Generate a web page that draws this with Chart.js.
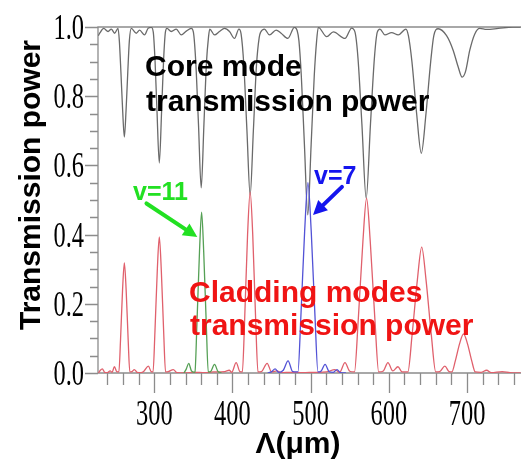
<!DOCTYPE html>
<html>
<head>
<meta charset="utf-8">
<script src="https://cdn.jsdelivr.net/npm/chart.js@4/dist/chart.umd.min.js"></script>
<style>
  html, body { margin: 0; padding: 0; background: #ffffff; }
  canvas { display: block; }
</style>
</head>
<body>
<canvas id="c" width="523" height="465"></canvas>
<script>
// Grating period axis (µm) and tick labels
const xTicks = [300, 400, 500, 600, 700];
const yTicks = ['0.0', '0.2', '0.4', '0.6', '0.8', '1.0'];

// Core mode transmission power
const coreX = [228.5, 230.2, 235.3, 240.9, 245.0, 249.3, 253.6,
  255.3, 257.3, 259.5, 261.7, 263.9, 266.1, 268.1,
  270.6, 277.0, 281.2, 287.6, 292.0, 296.2,
  298.7, 301.0, 303.4, 306.4, 309.4, 311.8, 314.2,
  316.2, 321.7, 328.1, 334.5, 340.9, 347.3,
  350.0, 353.0, 356.5, 360.0, 363.5, 366.8, 369.3,
  370.9, 377.0, 383.4, 389.8, 396.2, 402.6, 408.2,
  411.0, 414.5, 418.5, 422.6, 426.7, 430.7, 434.2,
  436.0, 440.9, 447.3, 455.8, 462.2, 470.8, 479.2, 482.7,
  485.0, 488.0, 492.0, 496.3, 500.6, 504.6, 507.6,
  509.8, 520.5, 529.0, 543.9, 552.4,
  556.7, 560.5, 565.5, 571.0, 576.5, 581.5, 585.2,
  588.6, 595.0, 603.5, 612.0, 621.8,
  625.0, 629.5, 635.5, 641.5, 647.5, 653.5, 657.5,
  663.0, 673.8, 682.2, 688.6, 693.7, 698.0, 703.5, 709.9, 716.3, 724.9, 740.0, 758.5, 768.5];
const coreY = [0.975, 0.982, 0.996, 0.987, 0.994, 0.982, 0.996,
  0.960, 0.870, 0.760, 0.682, 0.760, 0.870, 0.960,
  0.996, 0.982, 0.991, 0.977, 0.996, 0.999,
  0.985, 0.900, 0.760, 0.607, 0.760, 0.900, 0.985,
  0.996, 0.987, 0.994, 0.977, 0.988, 0.996,
  0.985, 0.900, 0.720, 0.535, 0.720, 0.900, 0.970,
  0.994, 0.977, 0.987, 0.996, 0.987, 0.967, 0.994,
  0.980, 0.890, 0.700, 0.514, 0.700, 0.890, 0.970,
  0.985, 0.994, 0.977, 0.991, 0.982, 0.967, 0.999, 0.990,
  0.960, 0.860, 0.660, 0.457, 0.660, 0.860, 0.960,
  0.999, 0.972, 0.986, 0.967, 0.997,
  0.985, 0.910, 0.720, 0.505, 0.720, 0.910, 0.985,
  0.994, 0.977, 0.984, 0.977, 0.994,
  0.975, 0.900, 0.750, 0.635, 0.750, 0.900, 0.975,
  0.995, 0.975, 0.933, 0.885, 0.855, 0.871, 0.933, 0.980, 0.996, 0.993, 0.996, 1.000, 1.000];

// Cladding modes transmission power
const cladX = [228.5, 231.0, 233.5, 236.5, 240.0, 243.5, 246.0, 249.0, 252.0,
  254.7, 256.8, 259.4, 261.7, 264.0, 266.6, 268.7,
  271.5, 274.5, 278.0, 283.0, 287.0, 292.4, 296.0,
  298.4, 300.8, 303.8, 306.4, 309.0, 312.0, 314.4,
  318.0, 324.3, 329.0, 340.0, 350.0, 365.0, 375.0, 390.0, 395.8, 399.0, 404.7, 409.5,
  412.6, 415.6, 419.3, 422.6, 425.9, 429.6, 432.6,
  437.0, 444.3, 450.0, 457.0, 462.0, 475.0, 490.0, 505.0, 520.0, 531.0, 537.0, 543.9, 550.0,
  556.0, 560.8, 566.8, 571.5, 576.2, 582.2, 587.0,
  593.0, 598.8, 605.0, 611.6, 617.0,
  624.3, 629.7, 636.5, 642.0, 647.5, 654.3, 660.0,
  665.0, 671.6, 677.0,
  680.5, 685.0, 690.5, 695.5, 700.5, 706.0, 710.5,
  718.0, 725.0, 731.0, 745.0, 755.0, 768.5];
const cladY = [0.000, 0.008, 0.012, 0.002, 0.001, 0.006, 0.002, 0.018, 0.004,
  0.003, 0.095, 0.240, 0.318, 0.240, 0.095, 0.003,
  0.004, 0.010, 0.002, 0.001, 0.006, 0.020, 0.004,
  0.003, 0.118, 0.295, 0.393, 0.295, 0.118, 0.003,
  0.004, 0.010, 0.001, 0.000, 0.002, 0.001, 0.003, 0.004, 0.008, 0.002, 0.030, 0.004,
  0.003, 0.157, 0.400, 0.523, 0.400, 0.157, 0.003,
  0.004, 0.028, 0.003, 0.006, 0.001, 0.002, 0.001, 0.002, 0.003, 0.010, 0.002, 0.030, 0.005,
  0.003, 0.152, 0.380, 0.505, 0.380, 0.152, 0.003,
  0.006, 0.030, 0.006, 0.018, 0.003,
  0.003, 0.110, 0.270, 0.364, 0.270, 0.110, 0.003,
  0.004, 0.020, 0.004,
  0.003, 0.035, 0.085, 0.113, 0.085, 0.035, 0.003,
  0.002, 0.008, 0.001, 0.004, 0.001, 0.000];

// Cladding mode v=11
const v11X = [338.0, 341.0, 344.0, 347.5, 351.0, 352.0, 354.5, 357.8, 360.5, 363.2, 366.5, 369.0, 372.0, 377.0, 381.5, 386.0];
const v11Y = [0.000, 0.012, 0.028, 0.006, 0.002, 0.003, 0.140, 0.350, 0.465, 0.350, 0.140, 0.003, 0.004, 0.025, 0.004, 0.000];

// Cladding mode v=7
const v7X = [445.0, 450.0, 454.5, 459.0, 465.0, 471.1, 477.0, 483.7, 487.5, 492.3, 496.5, 500.7, 505.5, 509.3, 513.5, 518.4, 524.0, 529.0, 533.7, 538.0, 545.0];
const v7Y = [0.000, 0.004, 0.012, 0.002, 0.008, 0.035, 0.004, 0.003, 0.165, 0.410, 0.550, 0.410, 0.165, 0.003, 0.006, 0.025, 0.003, 0.002, 0.010, 0.001, 0.000];

const toPoints = (xs, ys) => xs.map((x, i) => ({ x, y: ys[i] }));

const AXIS_GRAY = '#8c8c8c';

function condensedText(ctx, text, x, y, align) {
  ctx.save();
  ctx.translate(x, y);
  ctx.scale(0.68, 1);
  ctx.textAlign = align;
  ctx.fillText(text, 0, 0);
  ctx.restore();
}

function arrow(ctx, x0, y0, x1, y1, color) {
  const ang = Math.atan2(y1 - y0, x1 - x0);
  const head = 14, half = 7;
  const bx = x1 - head * Math.cos(ang), by = y1 - head * Math.sin(ang);
  ctx.save();
  ctx.strokeStyle = color;
  ctx.fillStyle = color;
  ctx.lineWidth = 4;
  ctx.lineCap = 'round';
  ctx.beginPath();
  ctx.moveTo(x0, y0);
  ctx.lineTo(bx, by);
  ctx.stroke();
  ctx.beginPath();
  ctx.moveTo(x1, y1);
  ctx.lineTo(bx + half * Math.sin(ang), by - half * Math.cos(ang));
  ctx.lineTo(bx - half * Math.sin(ang), by + half * Math.cos(ang));
  ctx.closePath();
  ctx.fill();
  ctx.restore();
}

const frame = {
  id: 'frame',
  beforeDatasetsDraw(chart) {
    const { ctx, chartArea: a } = chart;
    ctx.save();
    ctx.strokeStyle = AXIS_GRAY;
    ctx.lineWidth = 1.3;
    ctx.beginPath();
    ctx.moveTo(a.left, a.bottom);
    ctx.lineTo(a.left, a.top);
    ctx.lineTo(a.right, a.top);
    ctx.moveTo(a.left, a.bottom);
    ctx.lineTo(a.right, a.bottom);
    ctx.stroke();
    ctx.restore();
  },
  afterDraw(chart) {
    const { ctx, chartArea: a } = chart;
    const xs = chart.scales.x, ys = chart.scales.y;
    ctx.save();

    // tick marks
    ctx.strokeStyle = AXIS_GRAY;
    ctx.lineWidth = 1.3;
    ctx.beginPath();
    for (let i = 0; i <= 20; i++) {
      const py = Math.round(ys.getPixelForValue(i * 0.05)) + 0.5;
      const len = i % 4 === 0 ? 13 : 8;
      ctx.moveTo(a.left - len, py);
      ctx.lineTo(a.left, py);
    }
    for (let v = 240; v <= 760; v += 20) {
      const px = Math.round(xs.getPixelForValue(v)) + 0.5;
      const len = v % 100 === 0 ? 20 : 12;
      ctx.moveTo(px, a.bottom);
      ctx.lineTo(px, a.bottom + len);
    }
    ctx.stroke();

    // tick labels
    ctx.fillStyle = '#000';
    ctx.font = '36px "Liberation Serif", serif';
    ctx.textBaseline = 'alphabetic';
    yTicks.forEach(t => {
      const py = ys.getPixelForValue(parseFloat(t));
      condensedText(ctx, t, a.left - 14, py + 12, 'right');
    });
    xTicks.forEach(t => {
      const px = xs.getPixelForValue(t);
      condensedText(ctx, String(t), px, 425, 'center');
    });

    // axis titles
    ctx.font = 'bold 30px "Liberation Sans", Arial, sans-serif';
    ctx.textAlign = 'center';
    ctx.fillText('Λ(μm)', 298, 453);
    ctx.save();
    ctx.translate(32, 185);
    ctx.rotate(-Math.PI / 2);
    ctx.textBaseline = 'middle';
    ctx.fillText('Transmission power', 0, 0);
    ctx.restore();

    // curve captions
    ctx.textAlign = 'left';
    ctx.textBaseline = 'alphabetic';
    ctx.fillStyle = '#000';
    ctx.fillText('Core mode', 145, 76);
    ctx.fillText('transmission power', 146, 111);
    ctx.fillStyle = '#f01414';
    ctx.fillText('Cladding modes', 189, 302);
    ctx.fillText('transmission power', 190, 335);

    ctx.font = 'bold 25px "Liberation Sans", Arial, sans-serif';
    ctx.fillStyle = '#22e022';
    ctx.fillText('v=11', 133, 200);
    ctx.fillStyle = '#1515ee';
    ctx.fillText('v=7', 314, 184);

    arrow(ctx, xs.getPixelForValue(290), ys.getPixelForValue(0.49),
               xs.getPixelForValue(355), ys.getPixelForValue(0.393), '#22e022');
    arrow(ctx, xs.getPixelForValue(540), ys.getPixelForValue(0.538),
               xs.getPixelForValue(503), ys.getPixelForValue(0.457), '#1515ee');
    ctx.restore();
  }
};

const lineStyle = (color) => ({
  borderColor: color,
  borderWidth: 1.3,
  pointRadius: 0,
  fill: false,
  cubicInterpolationMode: 'monotone',
  tension: 0.4
});

new Chart(document.getElementById('c'), {
  type: 'line',
  data: {
    datasets: [
      Object.assign({ label: 'v=7', data: toPoints(v7X, v7Y) }, lineStyle('#5252d6')),
      Object.assign({ label: 'v=11', data: toPoints(v11X, v11Y) }, lineStyle('#55a055')),
      Object.assign({ label: 'Cladding modes', data: toPoints(cladX, cladY) }, lineStyle('#e0606c')),
      Object.assign({ label: 'Core mode', data: toPoints(coreX, coreY) }, lineStyle('#6a6a6a'))
    ]
  },
  options: {
    responsive: false,
    devicePixelRatio: 1,
    animation: false,
    layout: { padding: { left: 98, top: 27, right: 2, bottom: 92 } },
    plugins: { legend: { display: false }, tooltip: { enabled: false } },
    scales: {
      x: { type: 'linear', min: 228, max: 769, display: false },
      y: { type: 'linear', min: 0, max: 1, display: false }
    }
  },
  plugins: [frame]
});
</script>
</body>
</html>
